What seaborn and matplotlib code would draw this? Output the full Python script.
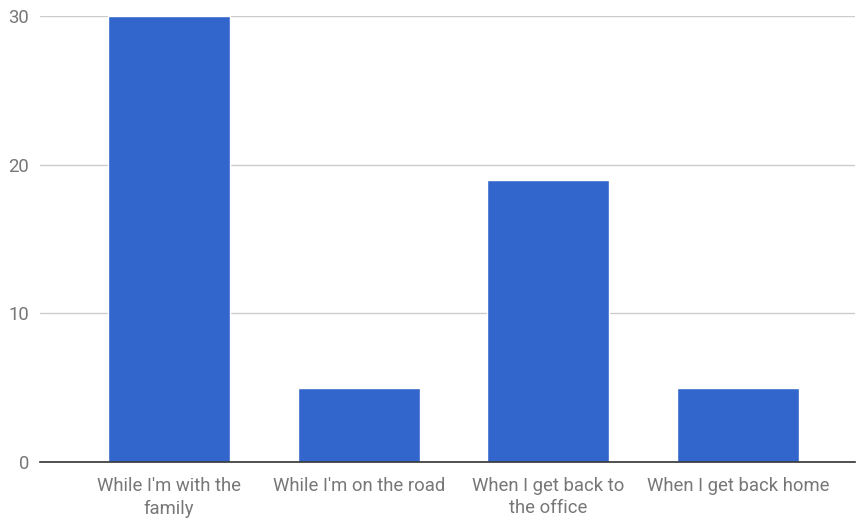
import pandas as pd
import matplotlib.pyplot as plt
import seaborn as sns

sns.set_theme(style='white')
plt.rcParams['font.family'] = ['Roboto', 'DejaVu Sans']

# data
categories = ['While I\'m with the\nfamily', 'While I\'m on the road',
              'When I get back to\nthe office', 'When I get back home']
values = [30, 5, 19, 5]

df = pd.DataFrame({'category': categories, 'value': values})

fig = plt.figure(figsize=(8.57, 5.20), dpi=100)
ax = fig.add_axes([0.047, 0.1115, 0.951, 0.8575])

sns.barplot(x='category', y='value', data=df, color='#3366cc',
            saturation=1, width=0.645, ax=ax, zorder=3)

ax.set_ylim(0, 30)
ax.set_xlim(-0.68, 3.62)
ax.set_yticks([0, 10, 20, 30])
ax.yaxis.grid(True, color='#cccccc', linewidth=1, zorder=0)
ax.set_axisbelow(True)
for side in ['top', 'right', 'left']:
    ax.spines[side].set_visible(False)
ax.spines['bottom'].set_color('#333333')
ax.spines['bottom'].set_linewidth(1.2)
ax.spines['bottom'].set_zorder(4)
ax.tick_params(axis='both', length=0, labelsize=13.3, labelcolor='#777777')
ax.tick_params(axis='x', pad=11)
ax.tick_params(axis='y', pad=8)
for lbl in ax.get_xticklabels():
    lbl.set_linespacing(1.3)
ax.set_xlabel('')
ax.set_ylabel('')

fig.savefig('out.png')
